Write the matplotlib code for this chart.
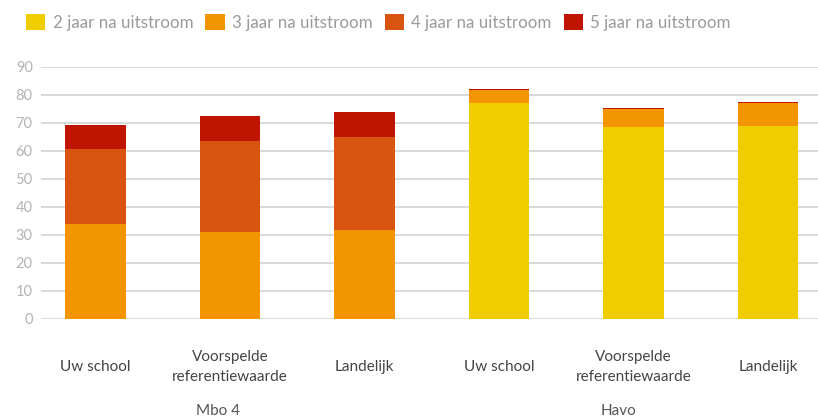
import matplotlib
matplotlib.use("Agg")
import matplotlib.pyplot as plt
import matplotlib.transforms as mtransforms
from matplotlib.patches import Patch

plt.rcParams['font.family'] = ['Lato', 'DejaVu Sans']

categories = ["Uw school", "Voorspelde\nreferentiewaarde", "Landelijk",
              "Uw school", "Voorspelde\nreferentiewaarde", "Landelijk"]
groups = ["Mbo 4", "Havo"]
series = ["2 jaar na uitstroom", "3 jaar na uitstroom",
          "4 jaar na uitstroom", "5 jaar na uitstroom"]

jaar2 = [0, 0, 0, 77.0, 68.5, 68.8]
jaar3 = [33.8, 31.0, 31.7, 4.7, 6.4, 8.2]
jaar4 = [26.8, 32.5, 33.2, 0, 0, 0]
jaar5 = [8.6, 8.9, 8.9, 0.3, 0.3, 0.4]

colors = ["#F0CD00", "#F29500", "#D95410", "#BE1400"]

fig = plt.figure(figsize=(8.18, 4.2), dpi=100)
ax = fig.add_axes([41 / 818, 101.3 / 420, 777 / 818, 252 / 420])

x = list(range(len(categories)))
bottom = [0] * len(x)
for vals, col in zip([jaar2, jaar3, jaar4, jaar5], colors):
    ax.bar(x, vals, bottom=bottom, width=0.45, color=col, zorder=3)
    bottom = [b + v for b, v in zip(bottom, vals)]

ax.set_ylim(0, 90)
ax.set_xlim(-0.405, 5.37)
ax.set_yticks(range(0, 91, 10))
ax.yaxis.grid(True, color="#d0d0d0", linewidth=1.1, zorder=0)
ax.set_xticks([])
ax.tick_params(axis='y', length=0, pad=6, labelsize=10.5, labelcolor="#b3b3b3")
for s in ax.spines.values():
    s.set_visible(False)

trans = mtransforms.blended_transform_factory(ax.transData, ax.transAxes)
for xi, lab in zip(x, categories):
    ax.text(xi, -0.19, lab, transform=trans, ha='center', va='center',
            fontsize=11, color="#444444", linespacing=1.55)

# group labels (not exactly centred on the middle bar in the original)
group_x = [0.91, 3.89]
for gx, g in zip(group_x, groups):
    ax.text(gx, -0.366, g, transform=trans, ha='center', va='center',
            fontsize=11, color="#555555")

handles = [Patch(facecolor=c, edgecolor='none') for c in colors]
leg = fig.legend(handles, series, loc='upper left', bbox_to_anchor=(0.032, 0.967),
                 ncol=4, frameon=False, fontsize=12.2, handlelength=1.13,
                 handleheight=1.13, handletextpad=0.45, columnspacing=0.7,
                 labelcolor="#9a9a9a", borderaxespad=0, borderpad=0)

fig.savefig("out.png", dpi=100)
